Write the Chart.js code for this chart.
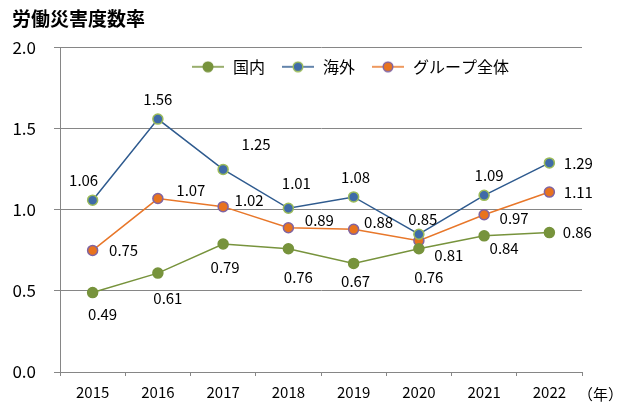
<!DOCTYPE html>
<html>
<head>
<meta charset="utf-8">
<script src="https://cdn.jsdelivr.net/npm/chart.js@4.4.1/dist/chart.umd.min.js"></script>
<style>
  html, body { margin: 0; padding: 0; background: #fff; }
</style>
</head>
<body>
<canvas id="rateChart" width="630" height="414"></canvas>
<script>
const years = ["2015", "2016", "2017", "2018", "2019", "2020", "2021", "2022"];
const domestic = [0.49, 0.61, 0.79, 0.76, 0.67, 0.76, 0.84, 0.86];
const overseas = [1.06, 1.56, 1.25, 1.01, 1.08, 0.85, 1.09, 1.29];
const group = [0.75, 1.07, 1.02, 0.89, 0.88, 0.81, 0.97, 1.11];
const yTicks = [0, 0.5, 1.0, 1.5, 2.0];

// where each value label sits, relative to its point (dx, dy)
const domesticLabelPos = [[10, 22], [10, 25], [2, 23], [10, 28], [2, 18], [10, 28], [20, 12], [28, 0]];
const overseasLabelPos = [[-9, -20], [0, -20], [33, -25], [8, -25], [2, -20], [4, -15], [5, -20], [29, 0]];
const groupLabelPos = [[31, 0], [33, -8], [26, -6], [31, -7], [25, -7], [30, 15], [30, 4], [29, 0]];

const FONT = '"Noto Sans CJK JP", "Noto Sans", sans-serif';
const GRID = "#868686";

function legendIcon(line, fill, border) {
    const c = document.createElement("canvas");
    c.width = 38;
    c.height = 12;
    const g = c.getContext("2d");
    g.strokeStyle = line;
    g.lineWidth = 1.5;
    g.beginPath();
    g.moveTo(5, 6);
    g.lineTo(37, 6);
    g.stroke();
    g.beginPath();
    g.arc(21, 6, 4.8, 0, Math.PI * 2);
    g.fillStyle = fill;
    g.fill();
    g.lineWidth = 1.5;
    g.strokeStyle = border;
    g.stroke();
    return c;
}

const series = [
    { label: "国内", data: domestic, line: "#77933C", fill: "#77933C", border: "#77933C", pos: domesticLabelPos },
    { label: "海外", data: overseas, line: "#2F5B8F", fill: "#3F6BA8", border: "#9BBB59", pos: overseasLabelPos },
    { label: "グループ全体", data: group, line: "#E8772A", fill: "#E8731E", border: "#8064A2", pos: groupLabelPos },
];
const icons = series.map(s => legendIcon(s.line, s.fill, s.border));

const legendInside = {
    id: "legendInside",
    beforeLayout(chart) {
        const legend = chart.legend;
        if (legend && !legend._patched) {
            const fit = legend.fit;
            legend.fit = function () {
                fit.call(this);
                this._fullHeight = this.height;
                this.height = 0;
            };
            legend._patched = true;
        }
    },
    afterLayout(chart) {
        const legend = chart.legend;
        legend.top = chart.chartArea.top - 1;
        legend.bottom = legend.top + legend._fullHeight;
        legend.left += 51;
        legend.right += 51;
    },
};

const valueLabels = {
    id: "valueLabels",
    afterDatasetsDraw(chart) {
        const ctx = chart.ctx;
        ctx.save();
        ctx.font = "15px " + FONT;
        ctx.fillStyle = "#000";
        ctx.textAlign = "center";
        ctx.textBaseline = "middle";
        series.forEach((s, i) => {
            chart.getDatasetMeta(i).data.forEach((pt, j) => {
                ctx.fillText(s.data[j].toFixed(2), pt.x + s.pos[j][0], pt.y + s.pos[j][1]);
            });
        });
        // unit label after the last year
        ctx.textAlign = "left";
        ctx.fillText("（年）", chart.chartArea.right - 4, chart.chartArea.bottom + 22);
        ctx.restore();
    },
};

new Chart(document.getElementById("rateChart"), {
    type: "line",
    data: {
        labels: years,
        datasets: series.map(s => ({
            label: s.label,
            data: s.data,
            borderColor: s.line,
            backgroundColor: s.fill,
            borderWidth: 1.5,
            pointBackgroundColor: s.fill,
            pointBorderColor: s.border,
            pointBorderWidth: 1.5,
            pointRadius: 5,
            tension: 0,
        })),
    },
    options: {
        responsive: false,
        animation: false,
        devicePixelRatio: 1,
        layout: { padding: { left: 12, right: 48, top: 0, bottom: 11 } },
        plugins: {
            title: {
                display: true,
                text: "労働災害度数率",
                align: "start",
                color: "#000",
                font: { family: FONT, size: 19, weight: "bold" },
                padding: { top: 7, bottom: 18 },
            },
            legend: {
                display: true,
                position: "top",
                labels: {
                    usePointStyle: true,
                    pointStyleWidth: 38,
                    boxHeight: 12,
                    padding: 12,
                    color: "#000",
                    font: { family: FONT, size: 16 },
                    generateLabels(chart) {
                        const items = Chart.defaults.plugins.legend.labels.generateLabels(chart);
                        items.forEach((it, i) => { it.pointStyle = icons[i]; });
                        return items;
                    },
                },
            },
            tooltip: { enabled: false },
        },
        scales: {
            x: {
                offset: true,
                afterFit(scale) { scale.height = 31; },
                grid: {
                    offset: true,
                    drawOnChartArea: false,
                    drawTicks: true,
                    tickLength: 4,
                    color: GRID,
                },
                border: { display: true, color: GRID },
                ticks: { color: "#000", padding: 7, font: { family: FONT, size: 15 } },
            },
            y: {
                min: 0,
                max: 2,
                afterFit(scale) { scale.width = 48; },
                afterBuildTicks(scale) { scale.ticks = yTicks.map(v => ({ value: v })); },
                grid: { color: GRID, tickLength: 6, drawTicks: true },
                border: { display: true, color: GRID },
                ticks: {
                    color: "#000",
                    padding: 18,
                    font: { family: FONT, size: 17 },
                    callback: v => v.toFixed(1),
                },
            },
        },
    },
    plugins: [legendInside, valueLabels],
});
</script>
</body>
</html>
